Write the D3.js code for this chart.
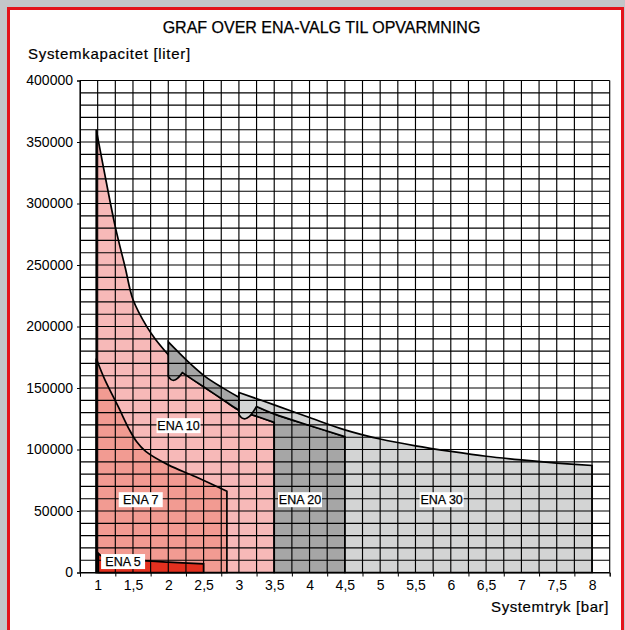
<!DOCTYPE html>
<html>
<head>
<meta charset="utf-8">
<script src="https://cdn.jsdelivr.net/npm/d3@7"></script>
<style>
body{margin:0;background:#c3c6c9;}
svg text{font-family:"Liberation Sans",Arial,sans-serif;fill:#000;}
</style>
</head>
<body>
<svg id="chart" width="625" height="630"></svg>
<script>
//x axis: systemtryk [bar], y axis: systemkapacitet [liter]
var pressures = [1,1.5,2,2.5,3,3.5,4,4.5,5,5.5,6,6.5,7,7.5,8];
var pressureLabels = ["1","1,5","2","2,5","3","3,5","4","4,5","5","5,5","6","6,5","7","7,5","8"];
var capacityTicks = [0,50000,100000,150000,200000,250000,300000,350000,400000];

//curves, [bar, liter]
var ena10Top = [[0.98,360000],[1.08,330000],[1.25,281000],[1.39,248000],[1.5,222000],[1.7,199500],[1.82,189500],[2,177000]];
var ena10Lower = [[2.2,162500],[2.5,151000],[2.75,141500],[3,132000],[3.25,127000],[3.5,122000]];
var ena20Top = [[2,187500],[2.28,171500],[2.52,159500],[2.76,150500],[3,142500],[3.25,135000],[3.5,129000],[4,119500],[4.5,110500]];
var ena20Notch = [[2,159300],[2.04,156800],[2.08,156300],[2.13,157800],[2.2,162500]];
var ena30Top = [[3,146300],[3.5,136300],[4,126000],[4.5,116000],[5,108500],[5.5,103000],[6,98500],[6.5,94500],[7,91500],[7.5,89000],[8,87000]];
var ena30Notch = [[3,128500],[3.04,125700],[3.09,125000],[3.15,127000],[3.2,130500],[3.25,135000]];
var ena7Top = [[0.98,174000],[1.1,157000],[1.29,135000],[1.45,116000],[1.55,106500],[1.68,98500],[2,87500],[2.38,78000],[2.83,66000]];
var ena5Top = [[1.01,15500],[1.08,12500],[1.5,10200],[2,8400],[2.5,7000]];

var enaNames = ["ENA 10","ENA 7","ENA 20","ENA 30","ENA 5"];

var svg = d3.select("#chart");

//frame
svg.append("rect").attr("width",625).attr("height",630).attr("fill","#c3c6c9");
svg.append("rect")
	.attr("x",8.5).attr("y",8.5)
	.attr("width",614).attr("height",640)
	.attr("fill","#fff")
	.attr("stroke","#e3131b")
	.attr("stroke-width",3);

svg.append("text")
	.attr("x",321.5).attr("y",33)
	.attr("text-anchor","middle")
	.style("font-size","16px")
	.style("stroke","#000").style("stroke-width","0.25px")
	.text("GRAF OVER ENA-VALG TIL OPVARMNING");

svg.append("text")
	.attr("x",28).attr("y",58.5)
	.style("font-size","15px")
	.style("letter-spacing","0.7px")
	.style("stroke","#000").style("stroke-width","0.2px")
	.text("Systemkapacitet [liter]");

svg.append("text")
	.attr("x",609).attr("y",611.5)
	.attr("text-anchor","end")
	.style("font-size","15px")
	.style("letter-spacing","0.6px")
	.style("stroke","#000").style("stroke-width","0.2px")
	.text("Systemtryk [bar]");

var x = d3.scaleLinear().domain([0.75,8.25]).range([80,609.7]);
var y = d3.scaleLinear().domain([0,400000]).range([572.5,80.5]);

var curved = d3.line()
	.x(function(d){ return x(d[0]) })
	.y(function(d){ return y(d[1]) })
	.curve(d3.curveCatmullRom.alpha(0.5));

//join curved and straight pieces into one closed outline
function outline(pieces){
	var s = "";
	pieces.forEach(function(p){
		if(p.curve){
			s += "L" + curved(p.pts).slice(1);
		} else {
			s += p.pts.map(function(q){ return "L" + x(q[0]) + "," + y(q[1]) }).join("");
		}
	});
	return "M" + s.slice(1) + "Z";
}

function rev(a){ return a.slice().reverse() }

var shapes = [
	{fill:"#f7b9b8", d: outline([
		{pts:[[0.98,0]]}, {curve:true, pts:ena10Top}, {curve:true, pts:ena10Lower}, {pts:[[3.5,0]]}
	])},
	{fill:"#a6a6a6", d: outline([
		{curve:true, pts:ena20Top}, {pts:[[4.5,0],[3.5,0]]},
		{curve:true, pts:rev(ena10Lower)}, {curve:true, pts:rev(ena20Notch)}
	])},
	{fill:"#d3d4d4", d: outline([
		{curve:true, pts:ena30Top}, {pts:[[8,0],[4.5,0]]},
		{curve:true, pts:rev(ena20Top.filter(function(d){ return d[0] >= 3.25 }))},
		{curve:true, pts:rev(ena30Notch)}
	])},
	{fill:"#f29b92", d: outline([
		{pts:[[0.98,0]]}, {curve:true, pts:ena7Top}, {pts:[[2.83,0]]}
	])},
	{fill:"#e3301f", d: outline([
		{pts:[[1.01,0]]}, {curve:true, pts:ena5Top}, {pts:[[2.5,0]]}
	])}
];

svg.append("g")
	.selectAll("path")
	.data(shapes)
  .enter().append("path")
	.attr("d", function(d){ return d.d })
	.attr("fill", function(d){ return d.fill })
	.attr("stroke","#000")
	.attr("stroke-width",1.7)
	.attr("stroke-linejoin","miter");

//grid over the areas
var grid = svg.append("g").attr("stroke","#000").attr("stroke-width",1.15);
grid.selectAll("line.v")
	.data(d3.range(0,31).map(function(k){ return 0.75 + 0.25*k }))
  .enter().append("line")
	.attr("class","v")
	.attr("x1", function(d){ return x(d) }).attr("x2", function(d){ return x(d) })
	.attr("y1", y(0)).attr("y2", y(400000));
grid.selectAll("line.h")
	.data(d3.range(0,410000,10000))
  .enter().append("line")
	.attr("class","h")
	.attr("x1", x(0.75)).attr("x2", x(8.25))
	.attr("y1", function(d){ return y(d) }).attr("y2", function(d){ return y(d) });

//axes
var yAxis = svg.append("g")
	.attr("transform","translate(" + x(0.75) + ",0)")
	.call(d3.axisLeft(y).tickValues(capacityTicks).tickSize(3).tickPadding(4).tickFormat(d3.format("d")));
yAxis.selectAll("text").style("font-size","14px").attr("fill","#000");

var xMarks = svg.append("g")
	.attr("transform","translate(0," + y(0) + ")")
	.call(d3.axisBottom(x).tickValues(d3.range(0,16).map(function(k){ return 0.75 + 0.5*k })).tickSize(4).tickFormat(""));

var xAxis = svg.append("g")
	.attr("transform","translate(0," + y(0) + ")")
	.call(d3.axisBottom(x).tickValues(pressures).tickSize(0).tickPadding(7.5)
		.tickFormat(function(d, i){ return pressureLabels[i] }));
xAxis.selectAll("text").style("font-size","14px").attr("fill","#000");
xAxis.select(".domain").remove();

//labels
var labelSpots = [[2.145,119400],[1.61,59200],[3.865,59200],[5.87,59200],[1.36,8900]];
var lab = svg.append("g")
	.selectAll("g")
	.data(enaNames)
  .enter().append("g")
	.attr("transform", function(d, i){ return "translate(" + x(labelSpots[i][0]) + "," + y(labelSpots[i][1]) + ")" });
lab.append("rect")
	.attr("x",-22).attr("y",-7.5)
	.attr("width",44).attr("height",15)
	.attr("fill","#fff");
lab.append("text")
	.attr("text-anchor","middle")
	.attr("dy","0.36em")
	.style("font-size","12.5px")
	.style("stroke","#000").style("stroke-width","0.25px")
	.text(function(d){ return d });
</script>
</body>
</html>
